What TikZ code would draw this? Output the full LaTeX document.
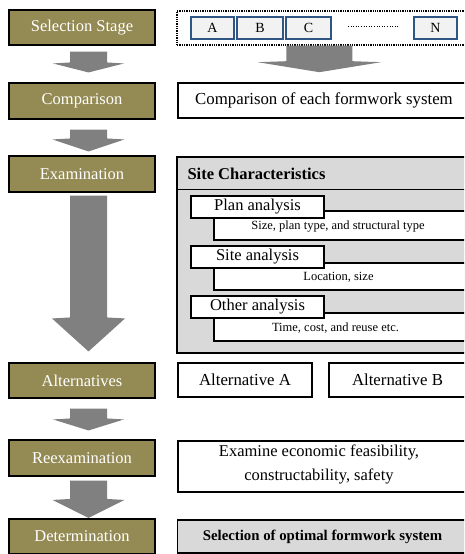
\documentclass[tikz,border=0pt]{standalone}
\usepackage{fontspec}
\setmainfont{Liberation Serif}
\usetikzlibrary{calc,shadows}
\definecolor{olivebox}{HTML}{948A54}
\definecolor{arrowgray}{HTML}{808080}
\definecolor{lgray}{HTML}{D9D9D9}
\definecolor{bgray}{HTML}{F2F2F2}
\definecolor{bblue}{HTML}{2F5585}
\tikzset{
  stage/.style={draw=black, line width=1.1pt, fill=olivebox, text=white,
    minimum width=146pt, minimum height=35pt, inner sep=0pt,
    font=\fontsize{16.5}{19}\selectfont,
    drop shadow={shadow xshift=1.3pt, shadow yshift=-1.3pt, fill=black, opacity=1}},
  rbox/.style={draw=black, line width=1.6pt, fill=white, inner sep=0pt,
    font=\fontsize{16.8}{19}\selectfont},
  subbox/.style={draw=black, line width=1.6pt, fill=white, inner sep=0pt},
  letterbox/.style={draw=bblue, line width=1.8pt, fill=bgray, inner sep=0pt,
    minimum height=22pt, font=\fontsize{14}{16}\selectfont},
  big/.style={font=\fontsize{16.5}{19}\selectfont},
  small/.style={font=\fontsize{12.5}{14}\selectfont},
  ga/.style={fill=arrowgray}
}
% block arrow: start point, tip point, head length, shaft half width, head half width
\newcommand\garrow[5]{%
  \fill[ga] let \p1=#1, \p2=#2 in
    (\x1-#4pt,\y1) -- (\x1+#4pt,\y1) -- (\x1+#4pt,\y2+#3pt) -- (\x1+#5pt,\y2+#3pt-1pt)
    -- (\x1,\y2) -- (\x1-#5pt,\y2+#3pt-1pt) -- (\x1-#4pt,\y2+#3pt) -- cycle;}
\begin{document}
\begin{tikzpicture}[x=1pt,y=-1pt]
\useasboundingbox (0,0) rectangle (464,554);
\clip (0,0) rectangle (464,554);

% left stage boxes
\node[stage] (sel) at (82,27.5) {Selection Stage};
\node[stage, minimum height=36pt] (cmp) at (82,101) {Comparison};
\node[stage, minimum height=36pt] (exa) at (82,174) {Examination};
\node[stage] (alt) at (82,380.5) {Alternatives};
\node[stage, minimum height=36pt] (ree) at (82,458) {Reexamination};
\node[stage] (det) at (82,536.5) {Determination};

% left arrows
\garrow{($(sel.south)+(6.5,6)$)}{($(cmp.north)+(6.5,-10)$)}{10}{18.5}{35.5}
\garrow{($(cmp.south)+(6.5,10)$)}{($(exa.north)+(6.5,-4)$)}{13}{18.5}{36}
\garrow{($(exa.south)+(6.5,3)$)}{($(alt.north)+(6.5,-11)$)}{34}{18.5}{36.5}
\garrow{($(alt.south)+(6.5,10)$)}{($(ree.north)+(6.5,-9)$)}{12}{18.5}{35.5}
\garrow{($(ree.south)+(6.5,4)$)}{($(det.north)+(6.5,-0.5)$)}{19}{18.5}{36}

% top right: dotted group of letter boxes
\node[draw=black, densely dotted, line width=1.3pt, minimum width=293pt, minimum height=34pt, inner sep=0pt] (grp) at (323.5,28) {};
\node[letterbox, minimum width=43pt] (A) at (212.5,28) {A};
\node[letterbox, minimum width=46pt] (B) at (260,28) {B};
\node[letterbox, minimum width=45pt] (C) at (308.5,28) {C};
\node[letterbox, minimum width=43pt] (N) at (435.5,28) {N};
\draw[dotted, line width=0.6pt] ($(C.east)+(16,-2)$) -- ($(N.west)+(-14,-2)$);

% comparison box
\node[rbox, minimum width=292pt, minimum height=35pt] (csys) at (324,100.5) {Comparison of each formwork system};
\garrow{($(grp.south west)+(143,0)$)}{($(csys.north west)+(142.5,-10)$)}{11}{33}{61.5}

% site characteristics
\node[draw=black, line width=1.6pt, fill=lgray, minimum width=293pt, minimum height=196pt, inner sep=0pt] (site) at (323.5,255) {};
\draw[line width=1.3pt] ($(site.north west)+(0,33)$) -- ($(site.north east)+(0,33)$);
\node[big, anchor=west, font=\fontsize{16.5}{19}\selectfont\bfseries] (sitet) at (184,174) {Site Characteristics};

\node[subbox, minimum width=256pt, minimum height=29pt] (plc) at (342,225.5) {};
\node[small] (plct) at (338,227) {Size, plan type, and structural type};
\node[subbox, big, minimum width=133pt, minimum height=22pt] (pl) at (257.5,207) {Plan analysis};

\node[subbox, minimum width=256pt, minimum height=27pt] (slc) at (342,276.5) {};
\node[small] (slct) at (338.5,277) {Location, size};
\node[subbox, big, minimum width=133pt, minimum height=22pt] (sl) at (257.5,257) {Site analysis};

\node[subbox, minimum width=256pt, minimum height=28pt] (olc) at (342,327) {};
\node[small] (olct) at (335.5,328) {Time, cost, and reuse etc.};
\node[subbox, big, minimum width=133pt, minimum height=22pt] (ol) at (257.5,307) {Other analysis};

% alternatives
\node[rbox, minimum width=134pt, minimum height=34pt] (altA) at (245,380) {Alternative A};
\node[rbox, minimum width=137pt, minimum height=34pt] (altB) at (397.5,380) {Alternative B};

% reexamination
\node[rbox, minimum width=292pt, minimum height=51pt] (exb) at (324,466.5) {};
\node[big, align=center, font=\fontsize{16.5}{24.5}\selectfont] (exbt) at (319,464.5) {Examine economic feasibility,\\constructability, safety};

% determination
\node[rbox, fill=lgray, minimum width=290pt, minimum height=33pt, font=\fontsize{14.8}{16}\selectfont\bfseries] (opt) at (322.5,536.5) {Selection of optimal formwork system};
\end{tikzpicture}
\end{document}
